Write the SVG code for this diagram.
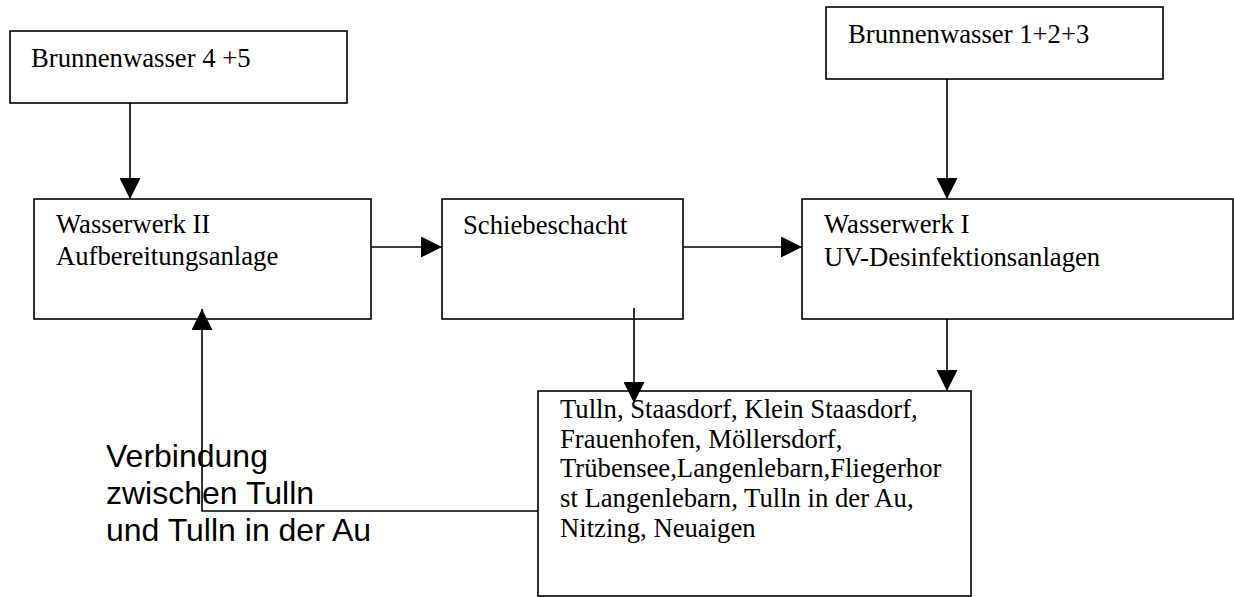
<svg xmlns="http://www.w3.org/2000/svg" width="1234" height="597" viewBox="0 0 1234 597">
<style>
.box{fill:#fff;stroke:#000;stroke-width:1.6}
.t{font-family:"Liberation Serif","Times New Roman",serif;font-size:26.7px;fill:#000}
.s{font-family:"Liberation Sans",Arial,sans-serif;font-size:32px;fill:#000}
.c{fill:none;stroke:#000;stroke-width:1.6;marker-end:url(#ah)}
</style>
<defs>
<marker id="ah" markerUnits="userSpaceOnUse" markerWidth="21" markerHeight="21" refX="21" refY="10.5" orient="auto" viewBox="0 0 21 21">
<path d="M0,0 L21,10.5 L0,21 z" fill="#000"/>
</marker>
</defs>
<rect width="1234" height="597" fill="#fff"/>
<g id="n1"><rect class="box" x="10" y="31" width="337" height="72"/><text class="t" x="31" y="67">Brunnenwasser 4 +5</text></g>
<g id="n3"><rect class="box" x="826" y="7" width="337" height="72"/><text class="t" x="848" y="43">Brunnenwasser 1+2+3</text></g>
<g id="n2"><rect class="box" x="34" y="199" width="337" height="120"/><text class="t" x="56" y="233">Wasserwerk II</text><text class="t" x="56" y="265">Aufbereitungsanlage</text></g>
<g id="sb"><rect class="box" x="442" y="199" width="241" height="120"/><text class="t" x="463" y="234">Schiebeschacht</text></g>
<g id="n4"><rect class="box" x="802" y="199" width="431" height="120"/><text class="t" x="824" y="233">Wasserwerk I</text><text class="t" x="824" y="266">UV-Desinfektionsanlagen</text></g>
<g id="n5"><rect class="box" x="538" y="391" width="433" height="205"/>
<text class="t" x="560" y="418">Tulln, Staasdorf, Klein Staasdorf,</text>
<text class="t" x="560" y="448">Frauenhofen, Möllersdorf,</text>
<text class="t" x="560" y="477">Trübensee,Langenlebarn,Fliegerhor</text>
<text class="t" x="560" y="507">st Langenlebarn, Tulln in der Au,</text>
<text class="t" x="560" y="537">Nitzing, Neuaigen</text>
</g>
<g id="connectors">
<path class="c" d="M130,103 V199"/>
<path class="c" d="M947,79 V199"/>
<path class="c" d="M371,247 H442"/>
<path class="c" d="M683,247 H802"/>
<path class="c" d="M634,308 V403"/>
<path class="c" d="M947,319 V391"/>
<path class="c" d="M538,511 H202 V309"/>
</g>
<g id="label"><text class="s" x="106" y="467">Verbindung</text><text class="s" x="106" y="504">zwischen Tulln</text><text class="s" x="106" y="541">und Tulln in der Au</text></g>
</svg>
